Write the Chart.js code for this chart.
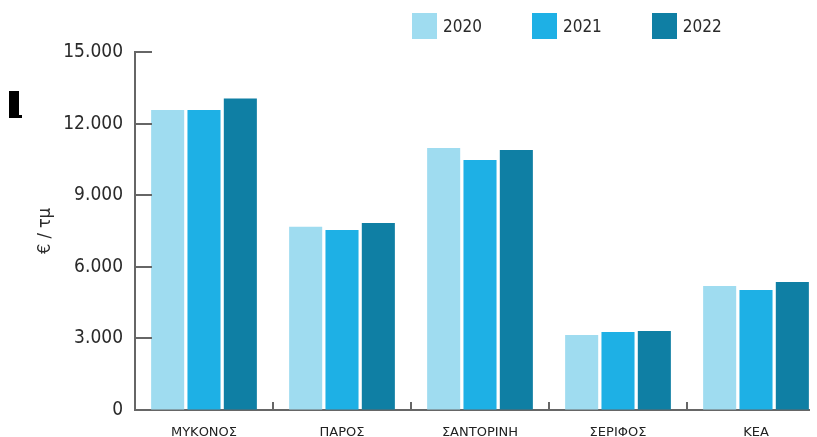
<!DOCTYPE html>
<html lang="el">
<head>
<meta charset="utf-8">
<title>€ / τμ</title>
<script src="https://cdn.jsdelivr.net/npm/chart.js@4.4.1/dist/chart.umd.min.js"></script>
<style>
  html, body { margin: 0; padding: 0; background: #fff; overflow: hidden; }
  #wrap { position: relative; width: 810px; height: 437px; overflow: hidden; }
  #box { position: absolute; left: 0; top: 0; width: 825px; height: 437px; }
  #legend { position: absolute; left: 412px; top: 13px; display: flex; font-family: "DejaVu Sans Condensed", "DejaVu Sans", sans-serif; font-size: 17px; color: #2a2a2a; }
  .item { display: flex; align-items: center; margin-right: 50px; }
  .swatch { width: 25px; height: 26px; margin-right: 6px; }
  #mark { position: absolute; left: 9px; top: 91px; width: 10px; height: 27px; background: #000; }
  #mark:after { content: ""; position: absolute; left: 10px; bottom: 0; width: 3px; height: 3px; background: #000; }
</style>
</head>
<body>
<div id="wrap">
  <div id="box"><canvas id="priceChart"></canvas></div>
  <div id="legend"></div>
  <div id="mark"></div>
</div>
<script>
// islands and average price per square metre, per year
const islands = ["ΜΥΚΟΝΟΣ", "ΠΑΡΟΣ", "ΣΑΝΤΟΡΙΝΗ", "ΣΕΡΙΦΟΣ", "ΚΕΑ"];
const years = ["2020", "2021", "2022"];
const price2020 = [12570, 7680, 10980, 3140, 5200];
const price2021 = [12570, 7540, 10470, 3270, 5030];
const price2022 = [13050, 7840, 10890, 3310, 5360];
const yTicks = [0, 3000, 6000, 9000, 12000, 15000];

const colours = ["#9fdcf0", "#1eb0e5", "#0f7fa4"];
const axisColour = "#666";

// 15000 -> "15.000"
function fmt(v) {
  return String(v).replace(/\B(?=(\d{3})+(?!\d))/g, ".");
}

// short inward ticks on the value axis, small separators between islands
const axisMarks = {
  id: "axisMarks",
  afterDraw(chart) {
    const ctx = chart.ctx;
    const x = chart.scales.x, y = chart.scales.y;
    const area = chart.chartArea;
    ctx.save();
    ctx.strokeStyle = axisColour;
    ctx.lineWidth = 2;
    ctx.beginPath();
    yTicks.forEach(v => {
      if (v === 0) return;
      const py = Math.round(y.getPixelForValue(v));
      ctx.moveTo(area.left, py);
      ctx.lineTo(area.left + 17, py);
    });
    for (let i = 1; i < islands.length; i++) {
      const px = Math.round((x.getPixelForValue(i - 1) + x.getPixelForValue(i)) / 2);
      ctx.moveTo(px, area.bottom);
      ctx.lineTo(px, area.bottom - 8);
    }
    ctx.stroke();
    ctx.restore();
  }
};

const chart = new Chart(document.getElementById("priceChart"), {
  type: "bar",
  data: {
    labels: islands,
    datasets: [
      { label: years[0], data: price2020, backgroundColor: colours[0] },
      { label: years[1], data: price2021, backgroundColor: colours[1] },
      { label: years[2], data: price2022, backgroundColor: colours[2] }
    ]
  },
  options: {
    responsive: true,
    maintainAspectRatio: false,
    animation: false,
    layout: { padding: { top: 52, left: 0, right: 0, bottom: 0 } },
    datasets: { bar: { categoryPercentage: 0.79, barPercentage: 0.91 } },
    plugins: {
      legend: { display: false },
      tooltip: { enabled: false }
    },
    scales: {
      x: {
        grid: { display: false, drawTicks: false },
        border: { display: true, color: axisColour, width: 2 },
        ticks: {
          padding: 15,
          color: "#222",
          font: { family: "DejaVu Sans", size: 13 }
        },
        afterFit(scale) { scale.height = 27; }
      },
      y: {
        min: 0,
        max: 15000,
        afterBuildTicks(scale) { scale.ticks = yTicks.map(v => ({ value: v })); },
        grid: { drawOnChartArea: false, drawTicks: false },
        border: { display: true, color: axisColour, width: 2 },
        ticks: {
          padding: 12,
          color: "#2a2a2a",
          font: { family: "DejaVu Sans Condensed", size: 19 },
          callback: v => fmt(v)
        },
        title: {
          display: true,
          text: "€ / τμ",
          color: "#2a2a2a",
          font: { family: "DejaVu Sans Condensed", size: 18 },
          padding: { top: 35, bottom: 0 }
        },
        afterFit(scale) { scale.width = 135; }
      }
    }
  },
  plugins: [axisMarks]
});

// legend built from the chart's datasets
const legend = document.getElementById("legend");
chart.data.datasets.forEach(ds => {
  const item = document.createElement("div");
  item.className = "item";
  const sw = document.createElement("span");
  sw.className = "swatch";
  sw.style.background = ds.backgroundColor;
  const txt = document.createElement("span");
  txt.textContent = ds.label;
  item.appendChild(sw);
  item.appendChild(txt);
  legend.appendChild(item);
});
</script>
</body>
</html>
